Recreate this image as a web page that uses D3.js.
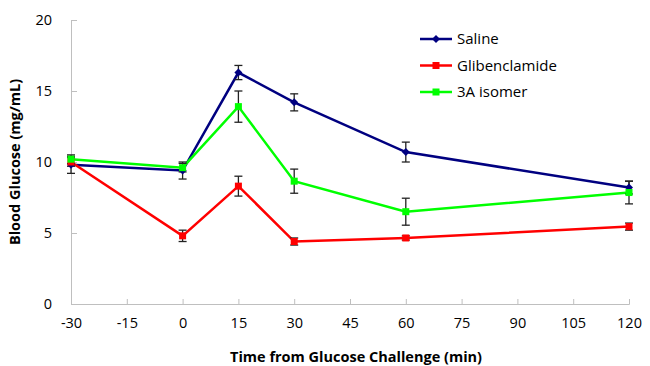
<!DOCTYPE html>
<html>
<head>
<meta charset="utf-8">
<script src="https://cdn.jsdelivr.net/npm/d3@7"></script>
<style>
  html, body { margin: 0; padding: 0; background: #fff; }
  svg { display: block; }
  text { font-family: "Open Sans", "Noto Sans", sans-serif; fill: #000; }
</style>
</head>
<body>
<svg id="chart" width="650" height="366"></svg>
<script>
// Time points (minutes from glucose challenge)
const times = [-30, 0, 15, 30, 60, 120];

// Mean blood glucose per group
const salineMean = [9.8, 9.4, 16.3, 14.2, 10.7, 8.2];
const glibMean   = [10.0, 4.8, 8.3, 4.4, 4.65, 5.45];
const isomerMean = [10.2, 9.6, 13.9, 8.65, 6.5, 7.85];

// Standard error per group
const salineErr = [0.6, 0.6, 0.5, 0.6, 0.7, 0.45];
const glibErr   = [0.3, 0.4, 0.7, 0.25, 0.15, 0.25];
const isomerErr = [0.3, 0.3, 1.1, 0.85, 0.95, 0.8];

const xTicks = [-30, -15, 0, 15, 30, 45, 60, 75, 90, 105, 120];
const yTicks = [0, 5, 10, 15, 20];

const seriesNames = ["Saline", "Glibenclamide", "3A isomer"];
const seriesColors = ["#000080", "#ff0000", "#00ff00"];
const seriesMarkers = ["diamond", "square", "square"];

const series = seriesNames.map((name, i) => ({
  name,
  color: seriesColors[i],
  marker: seriesMarkers[i],
  values: times.map((t, j) => ({
    t,
    v: [salineMean, glibMean, isomerMean][i][j],
    e: [salineErr, glibErr, isomerErr][i][j]
  }))
}));

const svg = d3.select("#chart");
const x = d3.scaleLinear().domain([-30, 120]).range([71, 629]);
const y = d3.scaleLinear().domain([0, 20]).range([304, 20]);

const axisColor = "#bfbfbf";
const plainNumber = d => String(d);

// Y axis
const yAxis = svg.append("g")
  .attr("transform", `translate(${x(-30)},0)`)
  .call(d3.axisLeft(y).tickValues(yTicks).tickFormat(plainNumber).tickSize(-6).tickPadding(19));
yAxis.select(".domain").attr("stroke", axisColor);
yAxis.selectAll(".tick line").attr("stroke", axisColor);
yAxis.selectAll(".tick text")
  .attr("font-size", 14.5).attr("font-family", "Open Sans, Noto Sans, sans-serif")
  .attr("fill", "#000");

// X axis
const xAxis = svg.append("g")
  .attr("transform", `translate(0,${y(0)})`)
  .call(d3.axisBottom(x).tickValues(xTicks).tickFormat(plainNumber).tickSize(-5).tickPadding(14));
xAxis.select(".domain").attr("stroke", axisColor);
xAxis.selectAll(".tick line").attr("stroke", axisColor);
xAxis.selectAll(".tick text")
  .attr("font-size", 14.5).attr("font-family", "Open Sans, Noto Sans, sans-serif")
  .attr("fill", "#000");

// Axis titles
svg.append("text")
  .attr("x", 356).attr("y", 362)
  .attr("text-anchor", "middle")
  .attr("font-size", 14.5).attr("font-weight", "bold")
  .text("Time from Glucose Challenge (min)");

svg.append("text")
  .attr("transform", `translate(20,162) rotate(-90)`)
  .attr("text-anchor", "middle")
  .attr("font-size", 14.5).attr("font-weight", "bold")
  .text("Blood Glucose (mg/mL)");

const line = d3.line().x(d => x(d.t)).y(d => y(d.v));

// Lines
series.forEach(s => {
  svg.append("path")
    .datum(s.values)
    .attr("fill", "none")
    .attr("stroke", s.color)
    .attr("stroke-width", 2.5)
    .attr("d", line);
});

// Error bars
series.forEach(s => {
  const g = svg.append("g").attr("stroke", "#222").attr("stroke-width", 1.3);
  s.values.forEach(d => {
    const cx = x(d.t), y1 = y(d.v + d.e), y2 = y(d.v - d.e);
    g.append("line").attr("x1", cx).attr("x2", cx).attr("y1", y1).attr("y2", y2);
    g.append("line").attr("x1", cx - 4).attr("x2", cx + 4).attr("y1", y1).attr("y2", y1);
    g.append("line").attr("x1", cx - 4).attr("x2", cx + 4).attr("y1", y2).attr("y2", y2);
  });
});

// Markers
function drawMarker(g, type, cx, cy, color) {
  if (type === "diamond") {
    g.append("path")
      .attr("d", `M${cx},${cy - 4}L${cx + 4},${cy}L${cx},${cy + 4}L${cx - 4},${cy}Z`)
      .attr("fill", color);
  } else {
    g.append("rect")
      .attr("x", cx - 3.5).attr("y", cy - 3.5)
      .attr("width", 7).attr("height", 7)
      .attr("fill", color);
  }
}
series.forEach(s => {
  const g = svg.append("g");
  s.values.forEach(d => drawMarker(g, s.marker, x(d.t), y(d.v), s.color));
});

// Legend
const legend = svg.append("g");
series.forEach((s, i) => {
  const ly = 39 + i * 26.5;
  legend.append("line")
    .attr("x1", 420).attr("x2", 452).attr("y1", ly).attr("y2", ly)
    .attr("stroke", s.color).attr("stroke-width", 2.5);
  drawMarker(legend, s.marker, 436, ly, s.color);
  legend.append("text")
    .attr("x", 457).attr("y", ly + 5)
    .attr("font-size", 15)
    .text(s.name);
});
</script>
</body>
</html>
